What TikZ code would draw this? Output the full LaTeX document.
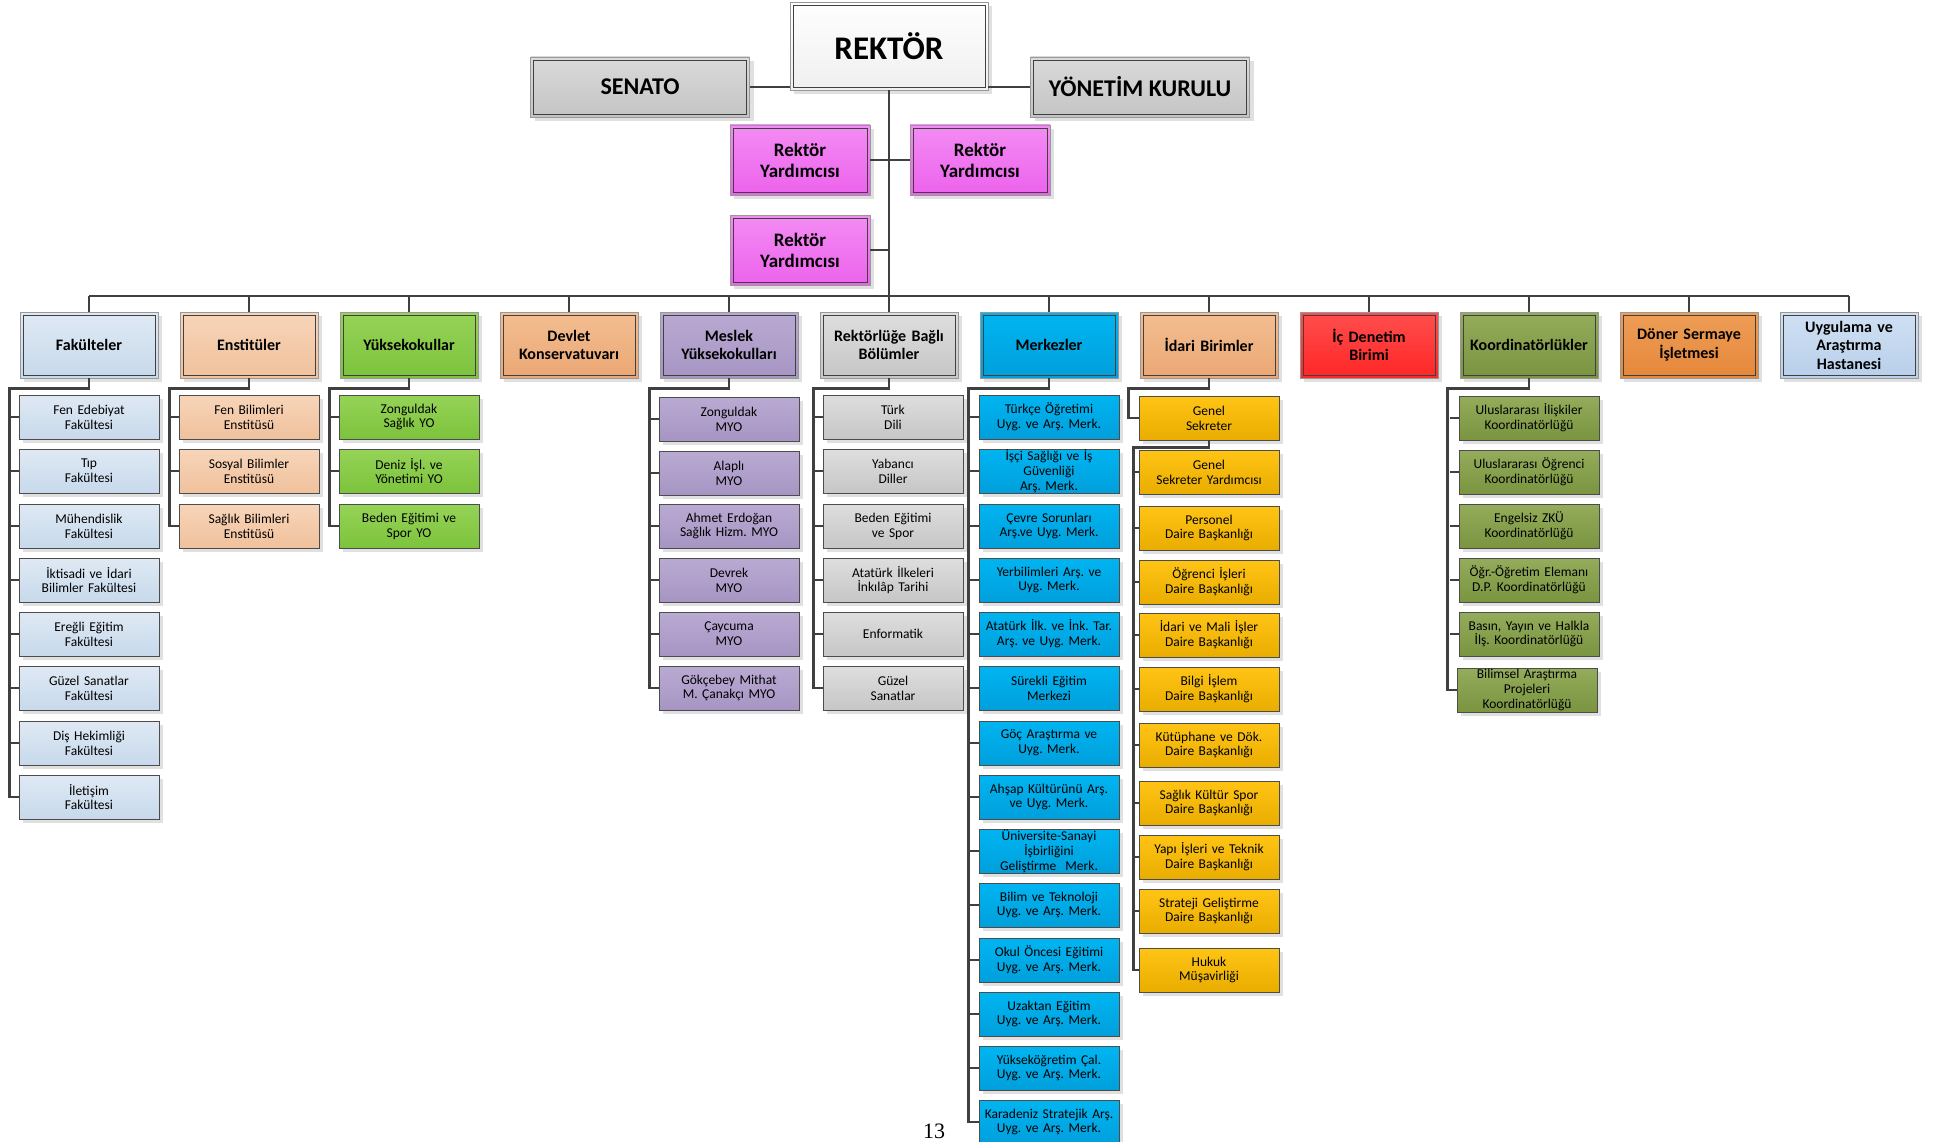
\documentclass[tikz,border=0pt]{standalone}
\usepackage{fontspec}
\setmainfont{Carlito}
\newfontfamily\pagefont{Liberation Serif}
\usetikzlibrary{shadows,calc}
\frenchspacing

\definecolor{rekBot}{HTML}{EFEFEF}
\definecolor{senTop}{HTML}{DADADA}
\definecolor{senBot}{HTML}{C4C4C4}
\definecolor{ryTop}{HTML}{F48CF4}
\definecolor{ryBot}{HTML}{EC62EC}
\definecolor{fakTop}{HTML}{DFE9F4}
\definecolor{fakBot}{HTML}{C7D9EB}
\definecolor{ensTop}{HTML}{F7D5B9}
\definecolor{ensBot}{HTML}{F0C19C}
\definecolor{yukTop}{HTML}{96D358}
\definecolor{yukBot}{HTML}{7CC33B}
\definecolor{devTop}{HTML}{F3BE91}
\definecolor{devBot}{HTML}{EBA774}
\definecolor{mesTop}{HTML}{B9AAD2}
\definecolor{mesBot}{HTML}{A695C3}
\definecolor{bolTop}{HTML}{DEDEDE}
\definecolor{bolBot}{HTML}{C6C6C6}
\definecolor{merTop}{HTML}{00B5F1}
\definecolor{merBot}{HTML}{009FDB}
\definecolor{icdTop}{HTML}{FF4E4E}
\definecolor{icdBot}{HTML}{FF2626}
\definecolor{korTop}{HTML}{94AC5B}
\definecolor{korBot}{HTML}{7A9440}
\definecolor{donTop}{HTML}{EE9E57}
\definecolor{donBot}{HTML}{E5873A}
\definecolor{uygTop}{HTML}{D0E0F3}
\definecolor{uygBot}{HTML}{B8CFEA}
\definecolor{golTop}{HTML}{FFC414}
\definecolor{golBot}{HTML}{E8AD00}
\definecolor{lineGray}{HTML}{404040}

\tikzset{
	tint/.style 2 args={top color=#1, bottom color=#2},
	unit/.style={rectangle, draw=black!70, line width=0.9pt, align=center, inner xsep=1pt, inner ysep=0pt,
		drop shadow={shadow xshift=4pt, shadow yshift=-4pt, fill=black!12, opacity=1}},
	framed/.style={unit, draw=black!40, path picture={\draw[black!75, line width=0.9pt]
		([shift={(3pt,-3pt)}]path picture bounding box.north west) rectangle
		([shift={(-3pt,3pt)}]path picture bounding box.south east);}},
	head/.style={framed, minimum width=138pt, minimum height=66pt, text width=134pt,
		font=\bfseries\fontsize{16}{18.5}\selectfont},
	sub/.style={unit, minimum width=140pt, minimum height=44pt, text width=138pt,
		font=\fontsize{13.5}{14.8}\selectfont},
	fakbox/.style={sub, tint={fakTop}{fakBot}},
	ensbox/.style={sub, tint={ensTop}{ensBot}},
	yukbox/.style={sub, tint={yukTop}{yukBot}},
	mesbox/.style={sub, tint={mesTop}{mesBot}},
	bolbox/.style={sub, tint={bolTop}{bolBot}},
	merbox/.style={sub, tint={merTop}{merBot}},
	idabox/.style={sub, tint={golTop}{golBot}},
	korbox/.style={sub, tint={korTop}{korBot}},
	rybox/.style={framed, tint={ryTop}{ryBot}, minimum width=140pt, minimum height=70pt,
		font=\bfseries\fontsize{19}{21}\selectfont},
	bus link/.style={draw=lineGray, line width=2.8pt},
	col link/.style={draw=lineGray, line width=2.2pt},
	top link/.style={draw=lineGray, line width=1.6pt},
}

\begin{document}
\begin{tikzpicture}[x=1pt, y=-1pt]
	\useasboundingbox (0,0) rectangle (1934,1142);
	% top of the chart
	\node[framed, tint={white}{rekBot}, minimum width=198pt, minimum height=88pt, font=\bfseries\fontsize{33}{38}\selectfont] (rektor) at (889,46) {REKTÖR};
	\node[framed, tint={senTop}{senBot}, minimum width=219pt, minimum height=60pt, font=\bfseries\fontsize{24}{28}\selectfont] (senato) at (640,87) {SENATO};
	\node[framed, tint={senTop}{senBot}, minimum width=219pt, minimum height=60pt, font=\bfseries\fontsize{24}{28}\selectfont] (yonetim) at (1140,87) {YÖNETİM KURULU};
	\node[rybox] (ry1) at (800,160) {Rektör\\Yardımcısı};
	\node[rybox] (ry2) at (980,160) {Rektör\\Yardımcısı};
	\node[rybox] (ry3) at (800,250) {Rektör\\Yardımcısı};
	\draw[top link] (senato.east) -- (senato.east -| rektor.west);
	\draw[top link] (yonetim.west) -- (yonetim.west -| rektor.east);
	\draw[top link] (ry1.east) -- (ry2.west);
	\coordinate (bus) at (889,296);
	\draw[top link] (rektor.south) -- (bus);
	\draw[top link] (ry3.east) -- (ry3.east -| rektor.south);

	% units
	\node[head, tint={fakTop}{fakBot}] (fak) at (89,345) {Fakülteler};
	\node[head, tint={ensTop}{ensBot}] (ens) at (249,345) {Enstitüler};
	\node[head, tint={yukTop}{yukBot}] (yuk) at (409,345) {Yüksekokullar};
	\node[head, tint={devTop}{devBot}] (dev) at (569,345) {Devlet\\Konservatuvarı};
	\node[head, tint={mesTop}{mesBot}] (mes) at (729,345) {Meslek\\Yüksekokulları};
	\node[head, tint={bolTop}{bolBot}] (bol) at (889,345) {Rektörlüğe Bağlı\\Bölümler};
	\node[head, tint={merTop}{merBot}] (mer) at (1049,345) {Merkezler};
	\node[head, tint={devTop}{devBot}] (ida) at (1209,345) {İdari Birimler};
	\node[head, tint={icdTop}{icdBot}] (icd) at (1369,345) {İç Denetim\\Birimi};
	\node[head, tint={korTop}{korBot}] (kor) at (1529,345) {Koordinatörlükler};
	\node[head, tint={donTop}{donBot}] (don) at (1689,345) {Döner Sermaye\\İşletmesi};
	\node[head, tint={uygTop}{uygBot}] (uyg) at (1849,345) {Uygulama ve\\Araştırma\\Hastanesi};
	\draw[bus link] (fak.north |- bus) -- (uyg.north |- bus);
	\draw[top link] (fak.north) -- (fak.north |- bus) (ens.north) -- (ens.north |- bus)
		(yuk.north) -- (yuk.north |- bus) (dev.north) -- (dev.north |- bus)
		(mes.north) -- (mes.north |- bus) (bol.north) -- (bol.north |- bus)
		(mer.north) -- (mer.north |- bus) (ida.north) -- (ida.north |- bus)
		(icd.north) -- (icd.north |- bus) (kor.north) -- (kor.north |- bus)
		(don.north) -- (don.north |- bus) (uyg.north) -- (uyg.north |- bus);

	% Fakülteler
	\node[fakbox] (fak1) at (89,417) {Fen Edebiyat\\Fakültesi};
	\node[fakbox] (fak2) at (89,471) {Tıp\\Fakültesi};
	\node[fakbox] (fak3) at (89,526) {Mühendislik\\Fakültesi};
	\node[fakbox] (fak4) at (89,580) {İktisadi ve İdari\\Bilimler Fakültesi};
	\node[fakbox] (fak5) at (89,634) {Ereğli Eğitim\\Fakültesi};
	\node[fakbox] (fak6) at (89,688) {Güzel Sanatlar\\Fakültesi};
	\node[fakbox] (fak7) at (89,743) {Diş Hekimliği\\Fakültesi};
	\node[fakbox] (fak8) at (89,797) {İletişim\\Fakültesi};
	\draw[col link] (fak.south) -- ++(0,10) -| ($(fak8.west)+(-9,0)$) -- (fak8.west);
	\draw[col link] (fak1.west) -- ++(-9,0) (fak2.west) -- ++(-9,0) (fak3.west) -- ++(-9,0)
		(fak4.west) -- ++(-9,0) (fak5.west) -- ++(-9,0) (fak6.west) -- ++(-9,0) (fak7.west) -- ++(-9,0);

	% Enstitüler
	\node[ensbox] (ens1) at (249,417) {Fen Bilimleri\\Enstitüsü};
	\node[ensbox] (ens2) at (249,471) {Sosyal Bilimler\\Enstitüsü};
	\node[ensbox] (ens3) at (249,526) {Sağlık Bilimleri\\Enstitüsü};
	\draw[col link] (ens.south) -- ++(0,10) -| ($(ens3.west)+(-9,0)$) -- (ens3.west);
	\draw[col link] (ens1.west) -- ++(-9,0) (ens2.west) -- ++(-9,0);

	% Yüksekokullar
	\node[yukbox] (yuk1) at (409,417) {Zonguldak\\Sağlık YO};
	\node[yukbox] (yuk2) at (409,471) {Deniz İşl. ve\\Yönetimi YO};
	\node[yukbox] (yuk3) at (409,526) {Beden Eğitimi ve\\Spor YO};
	\draw[col link] (yuk.south) -- ++(0,10) -| ($(yuk3.west)+(-9,0)$) -- (yuk3.west);
	\draw[col link] (yuk1.west) -- ++(-9,0) (yuk2.west) -- ++(-9,0);

	% Meslek Yüksekokulları
	\node[mesbox] (mes1) at (729,419) {Zonguldak\\MYO};
	\node[mesbox] (mes2) at (729,473) {Alaplı\\MYO};
	\node[mesbox] (mes3) at (729,526) {Ahmet Erdoğan\\Sağlık Hizm. MYO};
	\node[mesbox] (mes4) at (729,580) {Devrek\\MYO};
	\node[mesbox] (mes5) at (729,634) {Çaycuma\\MYO};
	\node[mesbox] (mes6) at (729,688) {Gökçebey Mithat\\M. Çanakçı MYO};
	\draw[col link] (mes.south) -- ++(0,10) -| ($(mes6.west)+(-9,0)$) -- (mes6.west);
	\draw[col link] (mes1.west) -- ++(-9,0) (mes2.west) -- ++(-9,0) (mes3.west) -- ++(-9,0)
		(mes4.west) -- ++(-9,0) (mes5.west) -- ++(-9,0);

	% Rektörlüğe Bağlı Bölümler
	\node[bolbox] (bol1) at (893,417) {Türk\\Dili};
	\node[bolbox] (bol2) at (893,471) {Yabancı\\Diller};
	\node[bolbox] (bol3) at (893,526) {Beden Eğitimi\\ve Spor};
	\node[bolbox] (bol4) at (893,580) {Atatürk İlkeleri\\İnkılâp Tarihi};
	\node[bolbox] (bol5) at (893,634) {Enformatik};
	\node[bolbox] (bol6) at (893,688) {Güzel\\Sanatlar};
	\draw[col link] (bol.south) -- ++(0,10) -| ($(bol6.west)+(-9,0)$) -- (bol6.west);
	\draw[col link] (bol1.west) -- ++(-9,0) (bol2.west) -- ++(-9,0) (bol3.west) -- ++(-9,0)
		(bol4.west) -- ++(-9,0) (bol5.west) -- ++(-9,0);

	% Merkezler
	\node[merbox] (mer1) at (1049,417) {Türkçe Öğretimi\\Uyg. ve Arş. Merk.};
	\node[merbox] (mer2) at (1049,471) {İşçi Sağlığı ve İş\\Güvenliği\\Arş. Merk.};
	\node[merbox] (mer3) at (1049,526) {Çevre Sorunları\\Arş.ve Uyg. Merk.};
	\node[merbox] (mer4) at (1049,580) {Yerbilimleri Arş. ve\\Uyg. Merk.};
	\node[merbox] (mer5) at (1049,634) {Atatürk İlk. ve İnk. Tar.\\Arş. ve Uyg. Merk.};
	\node[merbox] (mer6) at (1049,688) {Sürekli Eğitim\\Merkezi};
	\node[merbox] (mer7) at (1049,743) {Göç Araştırma ve\\Uyg. Merk.};
	\node[merbox] (mer8) at (1049,797) {Ahşap Kültürünü Arş.\\ve Uyg. Merk.};
	\node[merbox] (mer9) at (1049,851) {Üniversite-Sanayi\\İşbirliğini\\Geliştirme\ \ Merk.};
	\node[merbox] (mer10) at (1049,905) {Bilim ve Teknoloji\\Uyg. ve Arş. Merk.};
	\node[merbox] (mer11) at (1049,960) {Okul Öncesi Eğitimi\\Uyg. ve Arş. Merk.};
	\node[merbox] (mer12) at (1049,1014) {Uzaktan Eğitim\\Uyg. ve Arş. Merk.};
	\node[merbox] (mer13) at (1049,1068) {Yükseköğretim Çal.\\Uyg. ve Arş. Merk.};
	\node[merbox] (mer14) at (1049,1122) {Karadeniz Stratejik Arş.\\Uyg. ve Arş. Merk.};
	\draw[col link] (mer.south) -- ++(0,10) -| ($(mer14.west)+(-10,0)$) -- (mer14.west);
	\draw[col link] (mer1.west) -- ++(-10,0) (mer2.west) -- ++(-10,0) (mer3.west) -- ++(-10,0)
		(mer4.west) -- ++(-10,0) (mer5.west) -- ++(-10,0) (mer6.west) -- ++(-10,0)
		(mer7.west) -- ++(-10,0) (mer8.west) -- ++(-10,0) (mer9.west) -- ++(-10,0)
		(mer10.west) -- ++(-10,0) (mer11.west) -- ++(-10,0) (mer12.west) -- ++(-10,0)
		(mer13.west) -- ++(-10,0);

	% İdari Birimler
	\node[idabox] (gs) at (1209,418) {Genel\\Sekreter};
	\node[idabox] (ida1) at (1209,472) {Genel\\Sekreter Yardımcısı};
	\node[idabox] (ida2) at (1209,528) {Personel\\Daire Başkanlığı};
	\node[idabox] (ida3) at (1209,582) {Öğrenci İşleri\\Daire Başkanlığı};
	\node[idabox] (ida4) at (1209,635) {İdari ve Mali İşler\\Daire Başkanlığı};
	\node[idabox] (ida5) at (1209,689) {Bilgi İşlem\\Daire Başkanlığı};
	\node[idabox] (ida6) at (1209,745) {Kütüphane ve Dök.\\Daire Başkanlığı};
	\node[idabox] (ida7) at (1209,803) {Sağlık Kültür Spor\\Daire Başkanlığı};
	\node[idabox] (ida8) at (1209,857) {Yapı İşleri ve Teknik\\Daire Başkanlığı};
	\node[idabox] (ida9) at (1209,911) {Strateji Geliştirme\\Daire Başkanlığı};
	\node[idabox] (ida10) at (1209,970) {Hukuk\\Müşavirliği};
	\draw[col link] (ida.south) -- ++(0,10) -| ($(gs.west)+(-10,0)$) -- (gs.west);
	\draw[col link] (gs.south) -- ++(0,7) -| ($(ida10.west)+(-5,0)$) -- (ida10.west);
	\draw[col link] (ida1.west) -- ++(-5,0) (ida2.west) -- ++(-5,0) (ida3.west) -- ++(-5,0)
		(ida4.west) -- ++(-5,0) (ida5.west) -- ++(-5,0) (ida6.west) -- ++(-5,0)
		(ida7.west) -- ++(-5,0) (ida8.west) -- ++(-5,0) (ida9.west) -- ++(-5,0);

	% Koordinatörlükler
	\node[korbox] (kor1) at (1529,418) {Uluslararası İlişkiler\\Koordinatörlüğü};
	\node[korbox] (kor2) at (1529,472) {Uluslararası Öğrenci\\Koordinatörlüğü};
	\node[korbox] (kor3) at (1529,526) {Engelsiz ZKÜ\\Koordinatörlüğü};
	\node[korbox] (kor4) at (1529,580) {Öğr.-Öğretim Elemanı\\D.P. Koordinatörlüğü};
	\node[korbox] (kor5) at (1529,634) {Basın, Yayın ve Halkla\\İlş. Koordinatörlüğü};
	\node[korbox] (kor6) at (1527,690) {Bilimsel Araştırma\\Projeleri\\Koordinatörlüğü};
	\draw[col link] (kor.south) -- ++(0,10) -| ($(kor6.west)+(-9,0)$) -- (kor6.west);
	\draw[col link] (kor1.west) -- ++(-9,0) (kor2.west) -- ++(-9,0) (kor3.west) -- ++(-9,0)
		(kor4.west) -- ++(-9,0) (kor5.west) -- ++(-9,0);

	\node[font=\pagefont\fontsize{22}{22}\selectfont] (page) at (934,1131) {13};
\end{tikzpicture}
\end{document}
